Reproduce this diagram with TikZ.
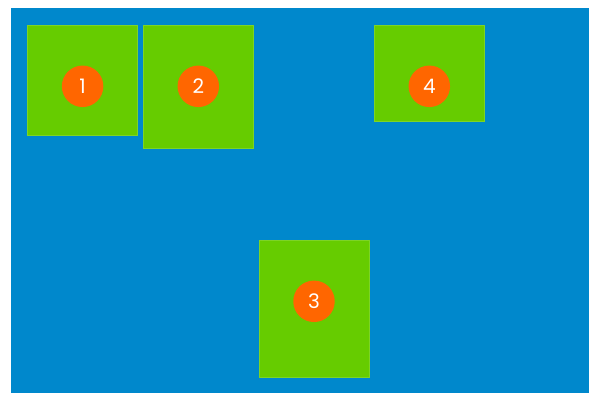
\documentclass[tikz,border=0pt]{standalone}
\usepackage{fontspec}
\setmainfont{Poppins}
\definecolor{bgblue}{HTML}{0088CC}
\definecolor{boxgreen}{HTML}{66CC00}
\definecolor{badge}{HTML}{FF6600}
\tikzset{
  greenbox/.style={fill=boxgreen, draw=boxgreen!85!white, line width=0.6pt, inner sep=0pt, anchor=north west},
  numbadge/.style={circle, fill=badge, minimum size=41.5pt, inner sep=0pt, text=white, font=\fontsize{20}{20}\selectfont}
}
\begin{document}
\begin{tikzpicture}[x=1pt,y=-1pt]
\useasboundingbox (0,0) rectangle (600,406);
\fill[bgblue] (11,8) rectangle (588.5,393);
\node[greenbox, minimum width=110pt, minimum height=110pt] (b1) at (27.3,24.7) {};
\node[greenbox, minimum width=110pt, minimum height=123.3pt] (b2) at (143,24.7) {};
\node[greenbox, minimum width=110pt, minimum height=137.3pt] (b3) at (258.7,239.7) {};
\node[greenbox, minimum width=110pt, minimum height=96.5pt] (b4) at (374,24.7) {};
\node[numbadge] (c1) at ([yshift=-61.6pt]b1.north) {1};
\node[numbadge] (c2) at ([yshift=-61.6pt]b2.north) {2};
\node[numbadge] (c3) at ([yshift=-61.6pt]b3.north) {3};
\node[numbadge] (c4) at ([yshift=-61.6pt]b4.north) {4};
\end{tikzpicture}
\end{document}
